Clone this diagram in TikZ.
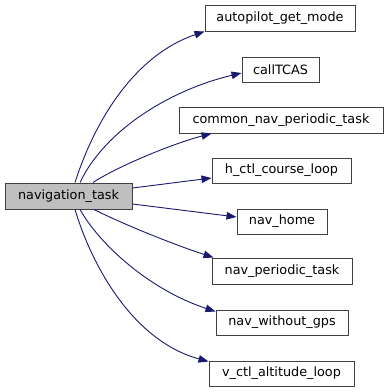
\documentclass[tikz,border=0pt]{standalone}
\usepackage{fontspec}
\setmainfont{DejaVu Sans}
\usetikzlibrary{arrows.meta}
\definecolor{edgeblue}{HTML}{191970}
\definecolor{boxline}{HTML}{404040}
\definecolor{curfill}{HTML}{BFBFBF}
\begin{document}
\begin{tikzpicture}[x=1pt,y=-1pt,
  fn/.style={draw=boxline,line width=1pt,fill=white,inner sep=0pt,
    font=\fontsize{12.8}{14}\selectfont},
  call/.style={draw=edgeblue,line width=0.9pt,
    -{Triangle[length=10pt,width=7.5pt]}}]
\useasboundingbox (0,0) rectangle (389,392);
% current function
\node[fn,fill=curfill,minimum width=127pt,minimum height=26pt] (nt) at (68.5,196) {navigation\_task};
% callees
\node[fn,minimum width=150pt,minimum height=26pt] (apm) at (280,18) {autopilot\_get\_mode};
\node[fn,minimum width=77pt,minimum height=25pt] (ct) at (280.5,69.5) {callTCAS};
\node[fn,minimum width=204pt,minimum height=26pt] (cn) at (281,120) {common\_nav\_periodic\_task};
\node[fn,minimum width=139pt,minimum height=25pt] (hc) at (281.5,170.5) {h\_ctl\_course\_loop};
\node[fn,minimum width=90pt,minimum height=25pt] (nh) at (282,221.5) {nav\_home};
\node[fn,minimum width=140pt,minimum height=26pt] (np) at (282,271) {nav\_periodic\_task};
\node[fn,minimum width=132pt,minimum height=25pt] (ng) at (282,322.5) {nav\_without\_gps};
\node[fn,minimum width=145pt,minimum height=25pt] (vc) at (281.5,373.5) {v\_ctl\_altitude\_loop};
% call edges (shifts are in page units: positive yshift is upwards)
\draw[call] ([xshift=6.5pt]nt.north) .. controls (95,120) and (135,55) .. (apm.south west);
\draw[call] ([xshift=11.5pt]nt.north) .. controls (105,130) and (170,90) .. ([yshift=-3.5pt]ct.west);
\draw[call] ([xshift=24.5pt]nt.north) .. controls (120,165) and (175,143) .. ([xshift=33pt]cn.south west);
\draw[call] ([yshift=8pt]nt.east) -- ([yshift=-7.5pt]hc.west);
\draw[call] ([yshift=-8pt]nt.east) -- ([yshift=4.5pt]nh.west);
\draw[call] ([xshift=25.5pt]nt.south) .. controls (125,225) and (175,245) .. ([xshift=2pt]np.north west);
\draw[call] ([xshift=11.5pt]nt.south) .. controls (100,245) and (150,290) .. ([yshift=-2pt]ng.north west);
\draw[call] ([xshift=6.5pt]nt.south) .. controls (90,260) and (130,340) .. ([yshift=-1pt]vc.north west);
\end{tikzpicture}
\end{document}
